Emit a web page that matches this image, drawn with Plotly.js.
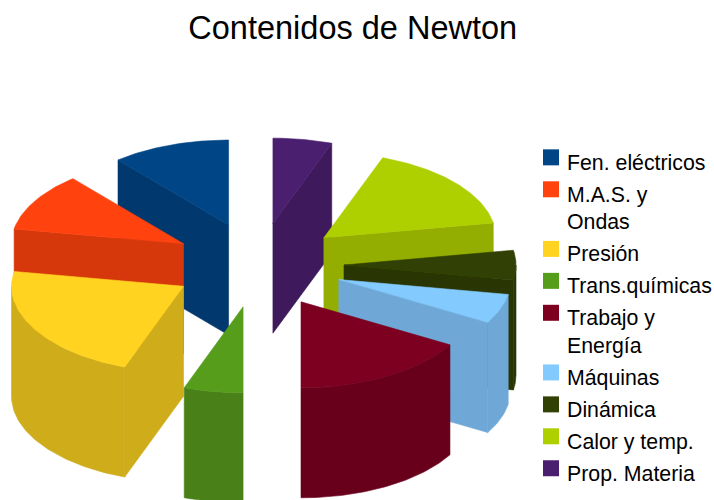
<!DOCTYPE html>
<html>
<head>
<meta charset="utf-8">
<script src="https://cdn.plot.ly/plotly-3.0.1.min.js"></script>
<style>html,body{margin:0;padding:0;background:#fff}#chart{width:714px;height:500px}</style>
</head>
<body>
<div id="chart"></div>
<script>
// Data (counted in equal units)
var categories = ["Fen. eléctricos","M.A.S. y<br>Ondas","Presión","Trans.químicas","Trabajo y<br>Energía","Máquinas","Dinámica","Calor y temp.","Prop. Materia"];
var values = [2,2,4,1,3,1,1,3,1];
var topColors = ["#004586","#ff420e","#ffd320","#579d1c","#7e0021","#83caff","#314004","#aecf00","#4b1f6f"];
var sideColors = ["#01396e","#d6380b","#ceac1a","#4a8018","#68001b","#6fa8d6","#293503","#93ad00","#3e1a5c"];

// Projection of the tilted pie onto the page
var CX = 258, CY = 265, RX = 172, RY_BACK = 85, RY_FRONT = 86, DEPTH = 110, PULL = 0.5, START = 90;
var rad = function (d) { return d * Math.PI / 180; };
var total = values.reduce(function (a, b) { return a + b; }, 0);

function proj(deg, r, ox, oy) {
  var s = Math.sin(rad(deg));
  return [ox + r * RX * Math.cos(rad(deg)), oy - r * (s < 0 ? RY_FRONT : RY_BACK) * s];
}
function poly(pts, color) {
  return {
    type: "scatter", mode: "lines", fill: "toself", fillcolor: color,
    x: pts.map(function (p) { return p[0]; }), y: pts.map(function (p) { return p[1]; }),
    line: { color: color, width: 0.6 }, hoverinfo: "skip", showlegend: false
  };
}

var slices = [], a = START;
values.forEach(function (v, i) {
  var sweep = v / total * 360;
  var mid = a + sweep / 2;
  slices.push({ i: i, t1: a, t2: a + sweep, mid: mid, depth: Math.sin(rad(mid)) });
  a += sweep;
});
slices.sort(function (p, q) { return q.depth - p.depth; });

var traces = [];

// Legend entries
categories.forEach(function (c, i) {
  traces.push({
    type: "scatter", mode: "markers", x: [null], y: [null], name: c, legendgroup: "g" + i,
    marker: { symbol: "square", size: 16, color: topColors[i] }, hoverinfo: "skip"
  });
});

slices.forEach(function (s) {
  var ox = CX + PULL * RX * Math.cos(rad(s.mid));
  var oy = CY - PULL * RY_BACK * Math.sin(rad(s.mid));
  var side = sideColors[s.i], top = topColors[s.i];
  var tip = [ox, oy];
  // radial walls turned towards the viewer
  if (Math.sin(rad(s.t1 - 90)) < -0.001) {
    var e1 = proj(s.t1, 1, ox, oy);
    traces.push(poly([tip, e1, [e1[0], e1[1] + DEPTH], [ox, oy + DEPTH], tip], side));
  }
  if (Math.sin(rad(s.t2 + 90)) < -0.001) {
    var e2 = proj(s.t2, 1, ox, oy);
    traces.push(poly([tip, e2, [e2[0], e2[1] + DEPTH], [ox, oy + DEPTH], tip], side));
  }
  // rim facing the viewer
  var upper = [], lower = [], t;
  for (t = s.t1; t <= s.t2 + 1e-6; t += 1) {
    if (Math.sin(rad(t)) <= 0.001) {
      var p = proj(t, 1, ox, oy);
      upper.push(p);
      lower.unshift([p[0], p[1] + DEPTH]);
    }
  }
  if (upper.length > 1) traces.push(poly(upper.concat(lower, [upper[0]]), side));
  // top face
  var face = [tip];
  for (t = s.t1; t <= s.t2 + 1e-6; t += 1) face.push(proj(t, 1, ox, oy));
  face.push(tip);
  traces.push(poly(face, top));
});

var layout = {
  width: 714, height: 500, paper_bgcolor: "#fff", plot_bgcolor: "#fff",
  margin: { l: 0, r: 0, t: 0, b: 0, autoexpand: false },
  title: { text: "Contenidos de Newton", x: 0.494, xanchor: "center", y: 0.945, yanchor: "middle",
           font: { family: "Liberation Sans, Arial, sans-serif", size: 32.5, color: "#000" } },
  xaxis: { range: [0, 714], visible: false, fixedrange: true },
  yaxis: { range: [500, 0], visible: false, fixedrange: true },
  showlegend: true,
  legend: { x: 531 / 714, xanchor: "left", y: 1 - 141 / 500, yanchor: "top", traceorder: "grouped", valign: "top",
            tracegroupgap: 1.25, bgcolor: "rgba(0,0,0,0)", borderwidth: 0,
            font: { family: "Liberation Sans, Arial, sans-serif", size: 21.3, color: "#000" } }
};
Plotly.newPlot("chart", traces, layout, { displayModeBar: false, staticPlot: true }).then(function () {
  // labels sit a little closer to their swatches, and swatches a little higher, in the reference
  document.querySelectorAll(".legendtext, .legendtext tspan").forEach(function (el) {
    if (el.hasAttribute("x")) el.setAttribute("x", parseFloat(el.getAttribute("x")) - 4);
  });
  document.querySelectorAll(".legendpoints").forEach(function (el) {
    el.setAttribute("transform", "translate(0,-4)");
  });
});
</script>
</body>
</html>
